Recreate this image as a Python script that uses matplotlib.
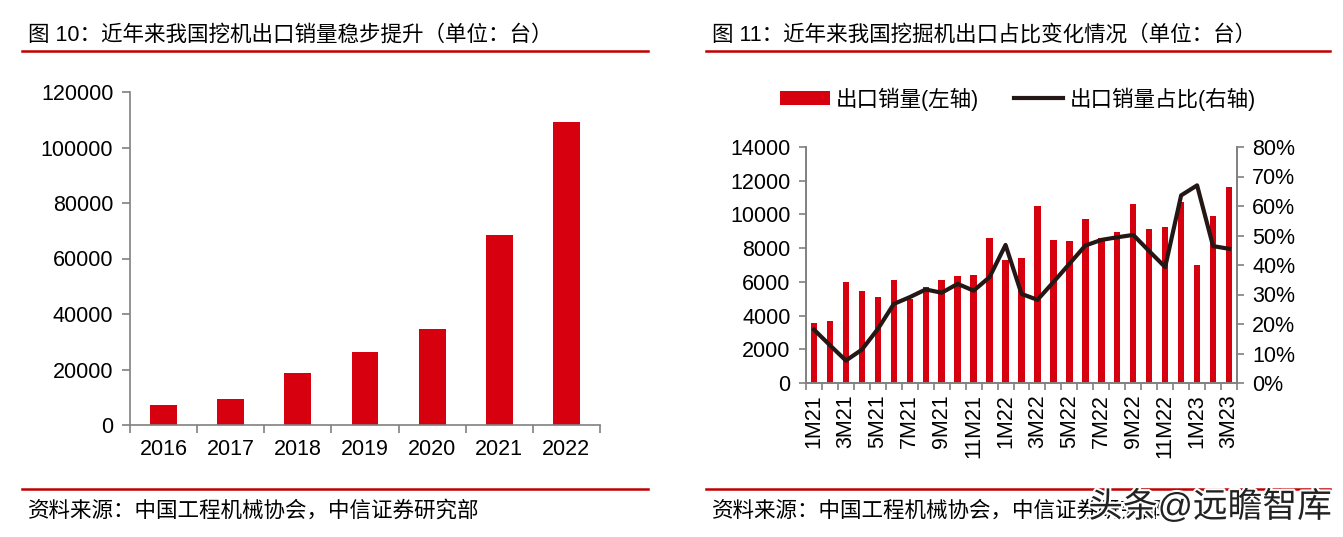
import numpy as np
import matplotlib
matplotlib.use('Agg')
import matplotlib.pyplot as plt
from matplotlib.lines import Line2D
import matplotlib.patheffects as pe

plt.rcParams['font.family'] = ['Liberation Sans', 'Noto Sans CJK SC', 'DejaVu Sans']

RED = '#d7000f'
DARK = '#231815'
GRAY = '#808080'

# left chart data
years = ['2016', '2017', '2018', '2019', '2020', '2021', '2022']
export_year = [7100, 9500, 18900, 26400, 34700, 68300, 109300]

# right chart data
months = ['1M21', '2M21', '3M21', '4M21', '5M21', '6M21', '7M21', '8M21', '9M21',
          '10M21', '11M21', '12M21', '1M22', '2M22', '3M22', '4M22', '5M22', '6M22',
          '7M22', '8M22', '9M22', '10M22', '11M22', '12M22', '1M23', '2M23', '3M23']
export_month = [3550, 3700, 6020, 5450, 5130, 6100, 5000, 5720, 6120,
                6320, 6400, 8580, 7280, 7390, 10480, 8480, 8400, 9700,
                8620, 8950, 10630, 9110, 9250, 10710, 6990, 9920, 11650]
export_share = [18.1, 12.8, 7.6, 11.3, 18.3, 26.8, 29.1, 31.7, 30.6,
                33.6, 31.3, 35.9, 46.8, 30.2, 28.2, 34.2, 40.4, 46.6,
                48.5, 49.4, 50.2, 44.7, 39.3, 63.6, 67.0, 46.4, 45.5]

W, H = 1343, 537
fig = plt.figure(figsize=(W / 100, H / 100), dpi=100)
FS = 15.5


def fx(px):
    return px / W


def fy(py):
    return 1 - py / H


def style_axis(ax):
    for s in ax.spines.values():
        s.set_color(GRAY)
        s.set_linewidth(1.2)
    ax.tick_params(colors=GRAY, labelcolor='black', labelsize=FS, width=1.2)


# ---- left chart
ax1 = fig.add_axes([fx(130), fy(425), fx(600) - fx(130), fy(92) - fy(425)])
x = np.arange(len(years))
ax1.bar(x, export_year, width=0.4, color=RED)
ax1.set_xlim(-0.5, len(years) - 0.5)
ax1.set_ylim(0, 120000)
ax1.set_yticks(np.arange(0, 120001, 20000))
ax1.set_xticks(x)
ax1.set_xticklabels(years)
ax1.set_xticks(np.arange(-0.5, len(years), 1), minor=True)
ax1.spines['top'].set_visible(False)
ax1.spines['right'].set_visible(False)
style_axis(ax1)
ax1.tick_params(axis='x', which='major', length=0, pad=10)
ax1.tick_params(axis='x', which='minor', length=6, width=1.2, colors=GRAY)
ax1.tick_params(axis='y', length=6, pad=6)

# ---- right chart
ax2 = fig.add_axes([fx(806), fy(383), fx(1237) - fx(806), fy(147) - fy(383)])
xm = np.arange(len(months))
ax2.bar(xm, export_month, width=0.4, color=RED, label='出口销量(左轴)')
ax2.set_xlim(-0.5, len(months) - 0.5)
ax2.set_ylim(0, 14000)
ax2.set_yticks(np.arange(0, 14001, 2000))
ax2.set_xticks(xm[::2])
ax2.set_xticklabels(months[::2], rotation=90)
ax2.set_xticks(np.arange(-0.5, len(months), 1), minor=True)
ax2.spines['top'].set_visible(False)
style_axis(ax2)
ax2.tick_params(axis='x', which='major', length=0, pad=8)
ax2.tick_params(axis='x', which='minor', length=5, width=1.2, colors=GRAY)
ax2.tick_params(axis='y', length=5, pad=6)

ax3 = ax2.twinx()
ax3.plot(xm, export_share, color=DARK, lw=3, label='出口销量占比(右轴)')
ax3.set_ylim(0, 80)
ax3.set_yticks(np.arange(0, 81, 10))
ax3.set_yticklabels([f'{v}%' for v in range(0, 81, 10)])
ax3.spines['top'].set_visible(False)
style_axis(ax3)
ax3.tick_params(axis='y', length=5, pad=6)

h1, l1 = ax2.get_legend_handles_labels()
h2, l2 = ax3.get_legend_handles_labels()
fig.legend(h1 + h2, l1 + l2, loc='center', bbox_to_anchor=(fx(1018), fy(99)),
           ncol=2, frameon=False, fontsize=FS, handlelength=2.3, handleheight=0.6,
           handletextpad=0.3, columnspacing=1.6)

# ---- titles, rules and sources
fig.text(fx(28), fy(35), '图 10：近年来我国挖机出口销量稳步提升（单位：台）',
         fontsize=FS, va='center', ha='left')
fig.text(fx(712), fy(35), '图 11：近年来我国挖掘机出口占比变化情况（单位：台）',
         fontsize=FS, va='center', ha='left')
for x0, x1 in [(22, 648), (706, 1330)]:
    fig.add_artist(Line2D([fx(x0), fx(x1)], [fy(51), fy(51)], color='#c00000', lw=1.8))
    fig.add_artist(Line2D([fx(x0), fx(x1)], [fy(489), fy(489)], color='#c00000', lw=1.8))
fig.text(fx(28), fy(511), '资料来源：中国工程机械协会，中信证券研究部',
         fontsize=FS, va='center', ha='left')
fig.text(fx(712), fy(511), '资料来源：中国工程机械协会，中信证券研究部',
         fontsize=FS, va='center', ha='left')
# watermark sits over the source line in the original too
fig.text(fx(1332), fy(507), '头条@远瞻智库', fontsize=25, va='center', ha='right',
         color='#222222', path_effects=[pe.withStroke(linewidth=3, foreground='white')])

fig.savefig('out.png', dpi=100)
